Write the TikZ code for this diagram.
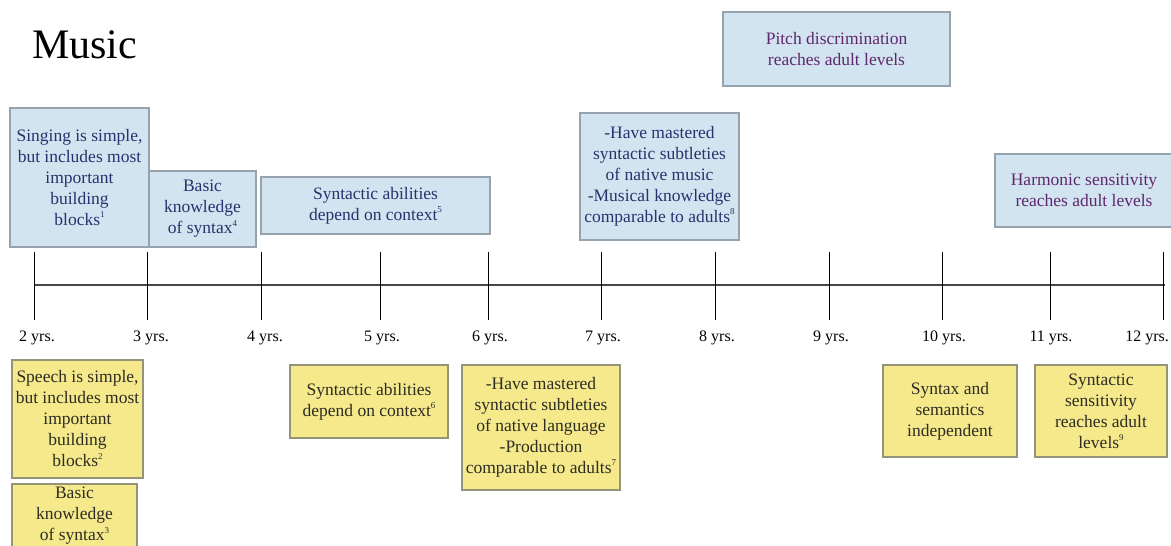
\documentclass[tikz,border=0pt]{standalone}
\usepackage{fontspec}
\setmainfont{Liberation Serif}
\definecolor{bfill}{RGB}{210,228,240}
\definecolor{bdraw}{RGB}{150,162,172}
\definecolor{btext}{RGB}{40,50,110}
\definecolor{ptext}{RGB}{95,40,110}
\definecolor{yfill}{RGB}{245,233,140}
\definecolor{ydraw}{RGB}{150,148,120}
\definecolor{ytext}{RGB}{45,45,35}
\definecolor{axisgray}{RGB}{70,70,70}
\newcommand\sups[1]{\raisebox{0.45em}{\fontsize{9}{9}\selectfont #1}}
\begin{document}
\begin{tikzpicture}[x=1pt,y=-1pt,
  box/.style={inner sep=0pt, align=center, font=\fontsize{17.5}{21}\selectfont, line width=1.2pt},
  bluebox/.style={box, draw=bdraw, fill=bfill, text=btext},
  purplebox/.style={bluebox, text=ptext},
  yellowbox/.style={box, draw=ydraw, fill=yfill, text=ytext},
  yearlabel/.style={font=\fontsize{16}{18}\selectfont, inner sep=0pt},
  tickline/.style={line width=0.9pt, black},
  axisline/.style={line width=2.4pt, axisgray}]
\useasboundingbox (0,0) rectangle (1171,546);
\fill[white] (0,0) rectangle (1171,546);

\node[anchor=base west, inner sep=0pt, font=\fontsize{42}{46}\selectfont] (title) at (32,58) {Music};

% timeline
\coordinate (tlstart) at (34,285);
\coordinate (tlend) at (1165,285);
\draw[axisline] (tlstart) -- (tlend);
\foreach \x/\n in {34/2,147/3,261/4,380/5,488/6,601/7,715/8,829/9,942/10,1050/11,1163/12}{
  \coordinate (ttop\n) at (\x,252);
  \coordinate (tbot\n) at (\x,320);
  \draw[tickline] (ttop\n) -- (tbot\n);
}
\foreach \x/\n in {37/2,151/3,265/4,382/5,490/6,603/7,717/8,831/9,944/10,1051/11}{
  \node[yearlabel] (yr\n) at (\x,338) {\n\ yrs.};
}
\node[yearlabel, anchor=east] (yr12) at (1169,338) {12 yrs.};

% music boxes (blue)
\node[bluebox, minimum width=139pt, minimum height=139pt] (sing) at (79.5,177.5)
  {Singing is simple,\\but includes most\\important\\building\\blocks\sups{1}};
\node[bluebox, minimum width=107pt, minimum height=76pt] (basicm) at (202.5,209)
  {Basic\\knowledge\\of syntax\sups{4}};
\node[bluebox, minimum width=229pt, minimum height=57pt] (ctxm) at (375.5,205.5)
  {Syntactic abilities\\depend on context\sups{5}};
\node[bluebox, minimum width=159pt, minimum height=127pt] (mastm) at (659.5,176.5)
  {-Have mastered\\syntactic subtleties\\of native music\\-Musical knowledge\\comparable to adults\sups{8}};
\node[purplebox, minimum width=227pt, minimum height=74pt] (pitch) at (836.5,49)
  {Pitch discrimination\\reaches adult levels};
\node[purplebox, minimum width=178pt, minimum height=73pt] (harm) at (1084,190.5)
  {Harmonic sensitivity\\reaches adult levels};

% language boxes (yellow)
\node[yellowbox, minimum width=131pt, minimum height=118pt] (speech) at (77.5,419)
  {Speech is simple,\\but includes most\\important\\building\\blocks\sups{2}};
\node[yellowbox, minimum width=125pt, minimum height=64pt] (basicl) at (74.5,516)
  {Basic\\knowledge\\of syntax\sups{3}};
\node[yellowbox, minimum width=158pt, minimum height=73pt] (ctxl) at (369,401.5)
  {Syntactic abilities\\depend on context\sups{6}};
\node[yellowbox, minimum width=158pt, minimum height=125pt] (mastl) at (541,427.5)
  {-Have mastered\\syntactic subtleties\\of native language\\-Production\\comparable to adults\sups{7}};
\node[yellowbox, minimum width=134pt, minimum height=92pt] (indep) at (950,411)
  {Syntax and\\semantics\\independent};
\node[yellowbox, minimum width=132pt, minimum height=92pt] (sens) at (1101,411)
  {Syntactic\\sensitivity\\reaches adult\\levels\sups{9}};
\end{tikzpicture}
\end{document}
